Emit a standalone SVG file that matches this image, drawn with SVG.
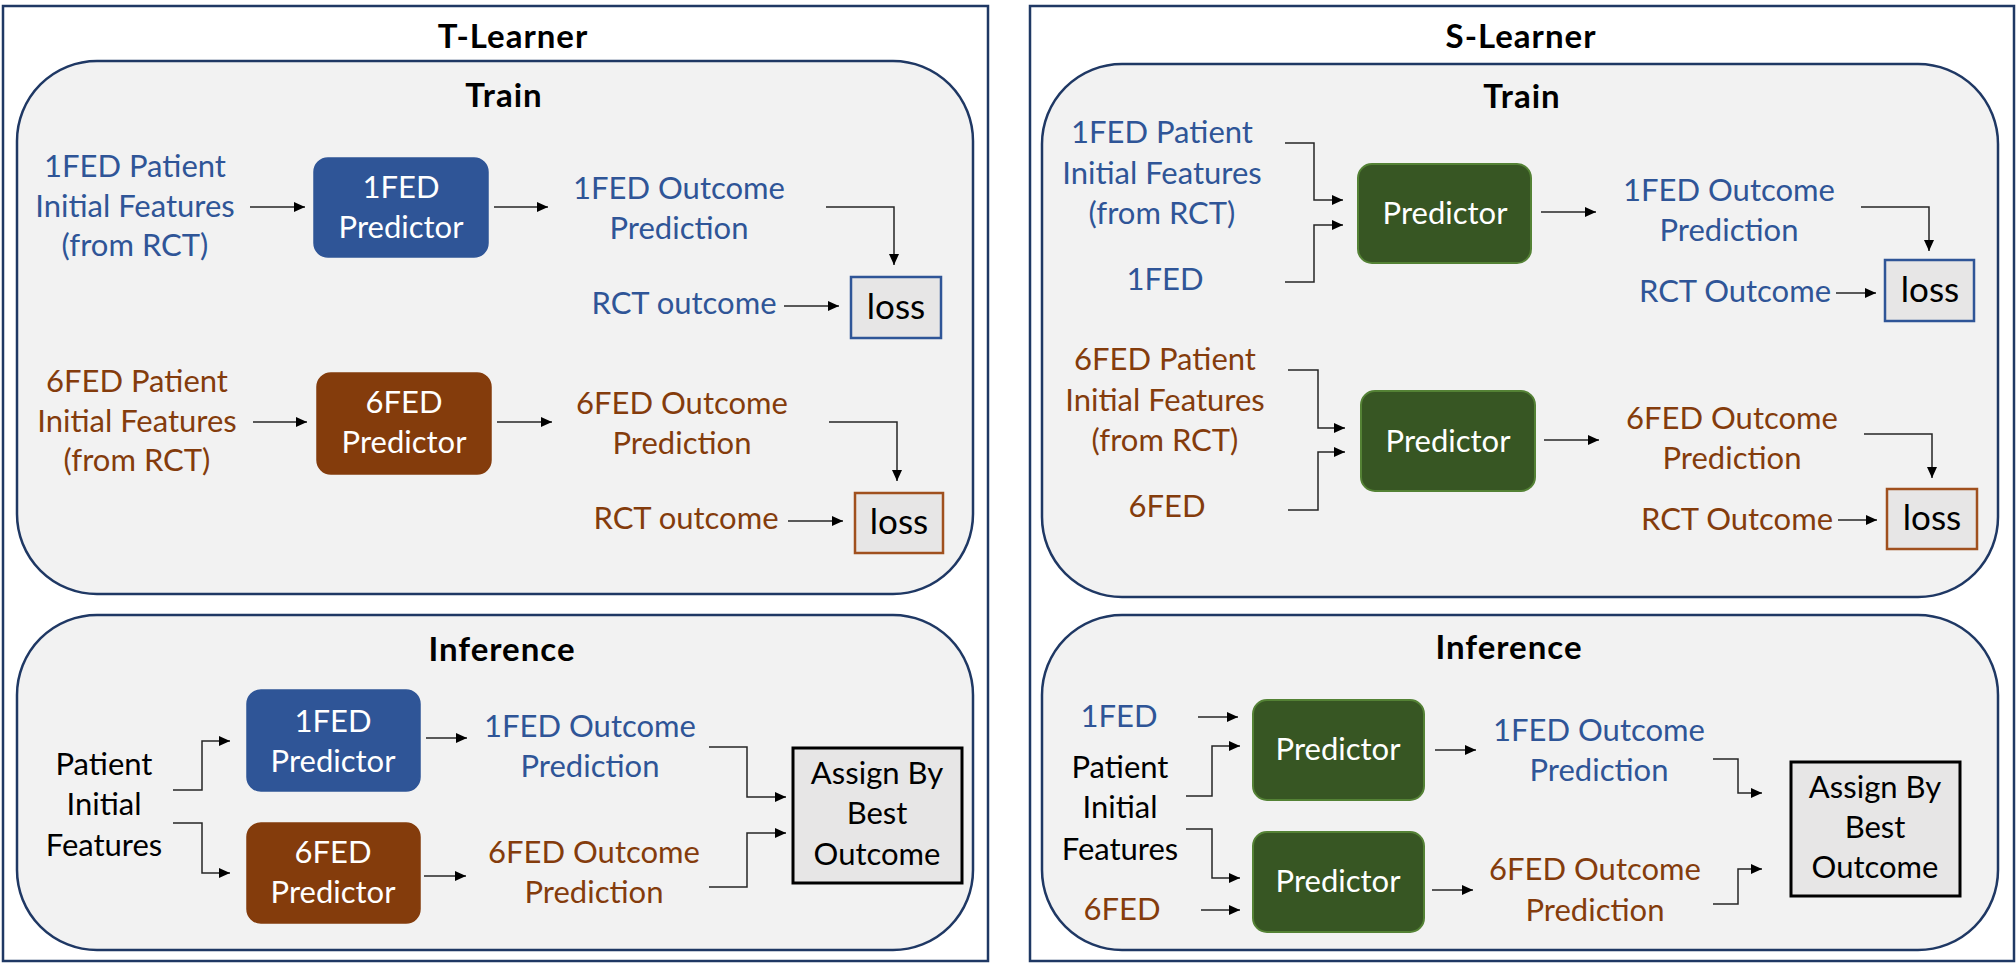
<svg xmlns="http://www.w3.org/2000/svg" width="2016" height="964" viewBox="0 0 2016 964">
<defs>
<marker id="ah" markerUnits="userSpaceOnUse" markerWidth="12" markerHeight="12" refX="11" refY="5" orient="auto">
<path d="M0,0 L11,5 L0,10 z" fill="#000"/>
</marker>
<style>
text{font-family:Lato,"Liberation Sans",sans-serif;text-anchor:middle}
.t{font-size:33px;font-weight:bold;fill:#000;letter-spacing:1px}
.b{font-size:31px;fill:#2F5597}
.r{font-size:31px;fill:#843C0C}
.k{font-size:31px;fill:#000}
.w{font-size:31px;fill:#fff}
.l{font-size:35px;fill:#000}
.outer{fill:#fff;stroke:#1F3864;stroke-width:2.5}
.panel{fill:#F2F2F2;stroke:#1F3864;stroke-width:2.5}
.pb{fill:#2F5597;stroke:#2F5597;stroke-width:1.5}
.pr{fill:#843C0C;stroke:#843C0C;stroke-width:1.5}
.pg{fill:#375623;stroke:#548235;stroke-width:2}
.lb{fill:#E7E6E6;stroke:#2F5597;stroke-width:2.5}
.lr{fill:#E7E6E6;stroke:#A0501E;stroke-width:2.5}
.as{fill:#E7E6E6;stroke:#000;stroke-width:3}
.c path{fill:none;stroke:#262626;stroke-width:1.5}
.c path.a{marker-end:url(#ah)}
</style>
</defs>

<!-- T-Learner -->
<g id="t-learner">
<rect class="outer" x="3" y="6" width="985" height="955"/>
<text class="t" x="513" y="48">T-Learner</text>
</g>
<g id="t-train">
<rect class="panel" x="17" y="61" width="956" height="533" rx="80" ry="80"/>
<text class="t" x="504" y="107">Train</text>
</g>
<g id="t-in1"><text class="b" x="135" y="177">1FED Patient<tspan x="135" y="217">Initial Features</tspan><tspan x="135" y="256">(from RCT)</tspan></text></g>
<g id="t-p1"><rect class="pb" x="314" y="158" width="174" height="99" rx="14"/><text class="w" x="401" y="198">1FED<tspan x="401" y="238">Predictor</tspan></text></g>
<g id="t-o1"><text class="b" x="679" y="199">1FED Outcome<tspan x="679" y="239">Prediction</tspan></text></g>
<g id="t-rct1"><text class="b" x="684" y="314">RCT outcome</text></g>
<g id="t-loss1"><rect class="lb" x="851" y="277" width="90" height="61"/><text class="l" x="896" y="319">loss</text></g>
<g id="t-in6"><text class="r" x="137" y="392">6FED Patient<tspan x="137" y="432">Initial Features</tspan><tspan x="137" y="471">(from RCT)</tspan></text></g>
<g id="t-p6"><rect class="pr" x="317" y="373" width="174" height="101" rx="14"/><text class="w" x="404" y="413">6FED<tspan x="404" y="453">Predictor</tspan></text></g>
<g id="t-o6"><text class="r" x="682" y="414">6FED Outcome<tspan x="682" y="454">Prediction</tspan></text></g>
<g id="t-rct6"><text class="r" x="686" y="529">RCT outcome</text></g>
<g id="t-loss6"><rect class="lr" x="855" y="493" width="88" height="60"/><text class="l" x="899" y="534">loss</text></g>

<g id="t-inference">
<rect class="panel" x="17" y="615" width="956" height="335" rx="80" ry="80"/>
<text class="t" x="502" y="661">Inference</text>
</g>
<g id="t-patient"><text class="k" x="104" y="775">Patient<tspan x="104" y="815">Initial</tspan><tspan x="104" y="856">Features</tspan></text></g>
<g id="t-ip1"><rect class="pb" x="247" y="690" width="173" height="101" rx="14"/><text class="w" x="333" y="732">1FED<tspan x="333" y="772">Predictor</tspan></text></g>
<g id="t-ip6"><rect class="pr" x="247" y="823" width="173" height="100" rx="14"/><text class="w" x="333" y="863">6FED<tspan x="333" y="903">Predictor</tspan></text></g>
<g id="t-io1"><text class="b" x="590" y="737">1FED Outcome<tspan x="590" y="777">Prediction</tspan></text></g>
<g id="t-io6"><text class="r" x="594" y="863">6FED Outcome<tspan x="594" y="903">Prediction</tspan></text></g>
<g id="t-assign"><rect class="as" x="793" y="748" width="169" height="135"/><text class="k" x="877" y="784">Assign By<tspan x="877" y="824">Best</tspan><tspan x="877" y="865">Outcome</tspan></text></g>

<!-- S-Learner -->
<g id="s-learner">
<rect class="outer" x="1030" y="6" width="984" height="955"/>
<text class="t" x="1521" y="48">S-Learner</text>
</g>
<g id="s-train">
<rect class="panel" x="1042" y="64" width="956" height="533" rx="80" ry="80"/>
<text class="t" x="1522" y="108">Train</text>
</g>
<g id="s-in1"><text class="b" x="1162" y="143">1FED Patient<tspan x="1162" y="184">Initial Features</tspan><tspan x="1162" y="224">(from RCT)</tspan></text></g>
<g id="s-f1"><text class="b" x="1165" y="290">1FED</text></g>
<g id="s-p1"><rect class="pg" x="1358" y="164" width="173" height="99" rx="14"/><text class="w" x="1445" y="224">Predictor</text></g>
<g id="s-o1"><text class="b" x="1729" y="201">1FED Outcome<tspan x="1729" y="241">Prediction</tspan></text></g>
<g id="s-rct1"><text class="b" x="1735" y="302">RCT Outcome</text></g>
<g id="s-loss1"><rect class="lb" x="1885" y="260" width="89" height="61"/><text class="l" x="1930" y="302">loss</text></g>
<g id="s-in6"><text class="r" x="1165" y="370">6FED Patient<tspan x="1165" y="411">Initial Features</tspan><tspan x="1165" y="451">(from RCT)</tspan></text></g>
<g id="s-f6"><text class="r" x="1167" y="517">6FED</text></g>
<g id="s-p6"><rect class="pg" x="1361" y="391" width="174" height="100" rx="14"/><text class="w" x="1448" y="452">Predictor</text></g>
<g id="s-o6"><text class="r" x="1732" y="429">6FED Outcome<tspan x="1732" y="469">Prediction</tspan></text></g>
<g id="s-rct6"><text class="r" x="1737" y="530">RCT Outcome</text></g>
<g id="s-loss6"><rect class="lr" x="1887" y="489" width="90" height="60"/><text class="l" x="1932" y="530">loss</text></g>

<g id="s-inference">
<rect class="panel" x="1042" y="615" width="956" height="335" rx="80" ry="80"/>
<text class="t" x="1509" y="659">Inference</text>
</g>
<g id="s-if1"><text class="b" x="1119" y="727">1FED</text></g>
<g id="s-patient"><text class="k" x="1120" y="778">Patient<tspan x="1120" y="818">Initial</tspan><tspan x="1120" y="860">Features</tspan></text></g>
<g id="s-if6"><text class="r" x="1122" y="920">6FED</text></g>
<g id="s-ip1"><rect class="pg" x="1253" y="700" width="171" height="100" rx="14"/><text class="w" x="1338" y="760">Predictor</text></g>
<g id="s-ip6"><rect class="pg" x="1253" y="832" width="171" height="100" rx="14"/><text class="w" x="1338" y="892">Predictor</text></g>
<g id="s-io1"><text class="b" x="1599" y="741">1FED Outcome<tspan x="1599" y="781">Prediction</tspan></text></g>
<g id="s-io6"><text class="r" x="1595" y="880">6FED Outcome<tspan x="1595" y="921">Prediction</tspan></text></g>
<g id="s-assign"><rect class="as" x="1791" y="762" width="169" height="134"/><text class="k" x="1875" y="798">Assign By<tspan x="1875" y="838">Best</tspan><tspan x="1875" y="878">Outcome</tspan></text></g>

<!-- connectors -->
<g id="connectors" class="c">
<path class="a" d="M250 207H305"/>
<path class="a" d="M494 207H548"/>
<path class="a" d="M826 207H894V265"/>
<path class="a" d="M784 306H839"/>
<path class="a" d="M253 422H307"/>
<path class="a" d="M497 422H552"/>
<path class="a" d="M829 422H897V481"/>
<path class="a" d="M788 521H843"/>
<path class="a" d="M173 790H202V741H230"/>
<path class="a" d="M173 823H202V873H230"/>
<path class="a" d="M426 738H467"/>
<path class="a" d="M424 876H466"/>
<path class="a" d="M709 747H747V797H786"/>
<path class="a" d="M709 887H747V833H786"/>

<path class="a" d="M1285 143H1314V200H1343"/>
<path class="a" d="M1285 282H1314V225H1343"/>
<path class="a" d="M1541 212H1596"/>
<path class="a" d="M1861 207H1929V251"/>
<path class="a" d="M1836 293H1876"/>
<path class="a" d="M1288 370H1318V428H1345"/>
<path class="a" d="M1288 510H1318V452H1345"/>
<path class="a" d="M1544 440H1599"/>
<path class="a" d="M1864 434H1932V478"/>
<path class="a" d="M1838 520H1877"/>
<path class="a" d="M1198 717H1238"/>
<path class="a" d="M1201 910H1240"/>
<path class="a" d="M1186 796H1212V746H1240"/>
<path class="a" d="M1186 829H1212V878H1240"/>
<path class="a" d="M1435 750H1476"/>
<path class="a" d="M1432 890H1473"/>
<path class="a" d="M1713 759H1738V793H1762"/>
<path class="a" d="M1713 904H1738V869H1762"/>
</g>
</svg>
